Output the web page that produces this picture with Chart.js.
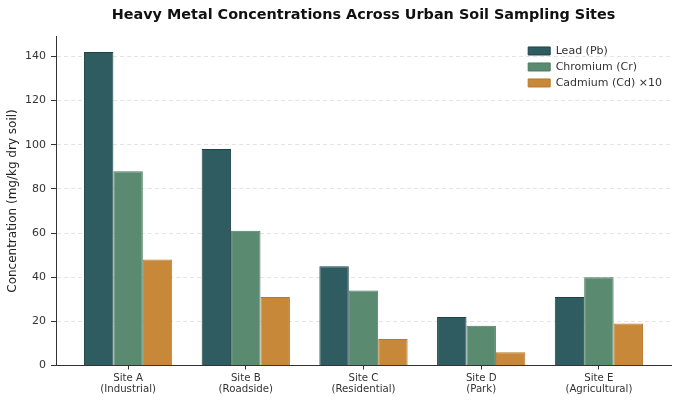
<!DOCTYPE html>
<html>
<head>
<meta charset="utf-8">
<script src="https://cdn.jsdelivr.net/npm/chart.js@4/dist/chart.umd.min.js"></script>
<style>
  html, body { margin: 0; padding: 0; background: #fff; }
  #wrap { width: 680px; height: 405px; }
</style>
</head>
<body>
<div id="wrap"><canvas id="chart"></canvas></div>
<script>
const sites = [
  [`Site A`, `(Industrial)`],
  [`Site B`, `(Roadside)`],
  [`Site C`, `(Residential)`],
  [`Site D`, `(Park)`],
  [`Site E`, `(Agricultural)`],
];
const lead = [142, 98, 45, 22, 31];
const chromium = [88, 61, 34, 18, 40];
const cadmiumX10 = [48, 31, 12, 6, 19];
const yTicks = [0, 20, 40, 60, 80, 100, 120, 140];

const toPoints = (values) => values.map((v, i) => ({ x: i, y: v }));

// put the title over the plot area and the legend in the top-right corner of it
const placeBoxes = {
  id: `placeBoxes`,
  afterLayout(chart) {
    const area = chart.chartArea;
    if (chart.titleBlock) {
      chart.titleBlock.left = area.left;
      chart.titleBlock.right = area.right;
    }
    const legend = chart.legend;
    if (legend) {
      const w = legend.width;
      const h = legend.height;
      legend.left = area.right - w + 1;
      legend.right = legend.left + w;
      legend.top = area.top + 4;
      legend.bottom = legend.top + h;
    }
  },
};

Chart.defaults.font.family = `'DejaVu Sans', sans-serif`;
Chart.defaults.color = `#333`;

new Chart(document.getElementById(`chart`).getContext(`2d`), {
  type: `bar`,
  data: {
    datasets: [
      {
        label: `Lead (Pb)`,
        data: toPoints(lead),
        backgroundColor: `#2e5c60`,
        borderColor: `#1d4245`,
        borderWidth: 1,
      },
      {
        label: `Chromium (Cr)`,
        data: toPoints(chromium),
        backgroundColor: `#5a8a70`,
        borderColor: `#4b7a61`,
        borderWidth: 1,
      },
      {
        label: `Cadmium (Cd) ×10`,
        data: toPoints(cadmiumX10),
        backgroundColor: `#c8883a`,
        borderColor: `#b8782c`,
        borderWidth: 1,
      },
    ],
  },
  options: {
    responsive: true,
    maintainAspectRatio: false,
    animation: false,
    layout: { padding: { left: 0, right: 9, top: 0, bottom: 0 } },
    datasets: { bar: { categoryPercentage: 0.75, barPercentage: 1.0 } },
    plugins: {
      title: {
        display: true,
        text: `Heavy Metal Concentrations Across Urban Soil Sampling Sites`,
        color: `#111`,
        font: { size: 14.4, weight: `bold` },
        padding: { top: 6.5, bottom: 12.7 },
      },
      legend: {
        position: `chartArea`,
        align: `start`,
        labels: {
          boxWidth: 22,
          boxHeight: 8,
          padding: 5,
          color: `#333`,
          font: { size: 11 },
        },
      },
      tooltip: { enabled: false },
    },
    scales: {
      x: {
        type: `linear`,
        min: -0.6125,
        max: 4.6125,
        offset: false,
        border: { display: true, color: `#333`, width: 1 },
        grid: { offset: false, drawOnChartArea: false, drawTicks: true, tickLength: 4, tickColor: `#333`, tickWidth: 1 },
        ticks: {
          stepSize: 1,
          includeBounds: false,
          padding: 3,
          font: { size: 10.2, lineHeight: 1.1 },
          color: `#333`,
          maxRotation: 0,
          callback: (v) => (Number.isInteger(v) && sites[v] ? sites[v] : ``),
        },
        afterFit: (scale) => { scale.height = 39.5; },
      },
      y: {
        min: 0,
        max: 149,
        border: { display: true, color: `#333`, width: 1, dash: [4, 3] },
        grid: {
          color: `#e4e4e4`,
          tickColor: `#333`,
          tickLength: 5,
          tickBorderDash: [],
        },
        ticks: {
          stepSize: 20,
          includeBounds: false,
          padding: 5,
          font: { size: 11 },
          color: `#333`,
          callback: (v) => (yTicks.includes(v) ? v : ``),
        },
        title: {
          display: true,
          text: `Concentration (mg/kg dry soil)`,
          color: `#222`,
          font: { size: 12 },
          padding: { top: 6, bottom: 4 },
        },
        afterFit: (scale) => { scale.width = 56; },
      },
    },
  },
  plugins: [placeBoxes],
});
</script>
</body>
</html>
